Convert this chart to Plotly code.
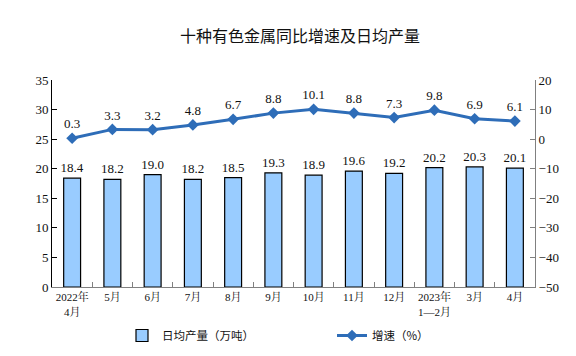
import plotly.graph_objects as go

categories = ["2022年<br>4月", "5月", "6月", "7月", "8月", "9月", "10月", "11月", "12月", "2023年<br>1—2月", "3月", "4月"]
output_vals = [18.4, 18.2, 19.0, 18.2, 18.5, 19.3, 18.9, 19.6, 19.2, 20.2, 20.3, 20.1]
growth_vals = [0.3, 3.3, 3.2, 4.8, 6.7, 8.8, 10.1, 8.8, 7.3, 9.8, 6.9, 6.1]

serif = "Liberation Serif, Noto Serif CJK SC, Noto Sans CJK SC, serif"
cjk = "Noto Sans CJK SC, sans-serif"

# figure sits inside the default 8px body margin, so page = figure + 8
W, H = 560, 340
ML, MR, MT, MB = 44, 33, 72, 61

fig = go.Figure()
fig.add_trace(go.Bar(
    x=categories, y=output_vals, name="日均产量（万吨）",
    marker=dict(color="#99CCFF", line=dict(color="#000000", width=1.2)),
    text=[f"{v:.1f}" for v in output_vals], textposition="outside",
    constraintext="none",
    textfont=dict(family=serif, size=13, color="#111111"),
    cliponaxis=False,
))
fig.add_trace(go.Scatter(
    x=categories, y=growth_vals, name="增速（%）", yaxis="y2",
    mode="lines+markers+text",
    line=dict(color="#2E6DB8", width=3),
    marker=dict(symbol="diamond", size=9, color="#2E6DB8"),
    text=[f"{v:.1f}" for v in growth_vals], textposition="top center",
    textfont=dict(family=serif, size=13, color="#111111"),
    cliponaxis=False,
))

fig.update_layout(
    width=W, height=H,
    margin=dict(l=ML, r=MR, t=MT, b=MB, autoexpand=False),
    paper_bgcolor="white", plot_bgcolor="white",
    title=dict(text="十种有色金属同比增速及日均产量", x=292/W, xanchor="center",
               y=1-28/H, yanchor="middle",
               font=dict(family=cjk, size=16, color="#111111")),
    bargap=0.58,
    showlegend=True,
    legend=dict(orientation="h", xref="container", yref="container",
                x=114/W, xanchor="left",
                y=(H-327.5)/H, yanchor="middle",
                entrywidth=165, entrywidthmode="pixels",
                font=dict(family=cjk, size=11.5, color="#111111"),
                itemwidth=30, tracegroupgap=0),
    xaxis=dict(type="category", range=[-0.5, len(categories) - 0.5],
               tickson="boundaries", ticks="inside", ticklen=5,
               tickangle=0, automargin=False,
               tickcolor="#808080", showline=True, linecolor="#808080", linewidth=1,
               showgrid=False, tickfont=dict(family=serif, size=11, color="#111111")),
    yaxis=dict(range=[0, 35], dtick=5, ticks="inside", ticklen=5, tickcolor="#000000",
               automargin=False,
               showline=True, linecolor="#000000", linewidth=1, showgrid=False, zeroline=False,
               tickfont=dict(family=serif, size=13, color="#111111")),
    yaxis2=dict(range=[-50, 20], dtick=10, overlaying="y", side="right",
                ticks="inside", ticklen=5, tickcolor="#808080", automargin=False,
                showline=True, linecolor="#808080", linewidth=1, showgrid=False, zeroline=False,
                tickfont=dict(family=serif, size=13, color="#111111")),
)

fig.write_html("out.html")
